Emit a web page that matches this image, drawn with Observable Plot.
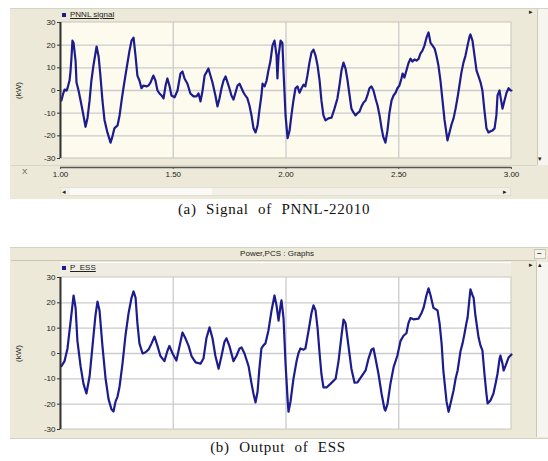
<!DOCTYPE html>
<html>
<head>
<meta charset="utf-8">
<script src="https://cdn.jsdelivr.net/npm/d3@7"></script>
<script src="https://cdn.jsdelivr.net/npm/@observablehq/plot@0.6"></script>
<style>
  html, body { margin: 0; padding: 0; background: #fff; }
  #root { position: relative; width: 548px; height: 461px; overflow: hidden; background: #fff; font-family: "Liberation Sans", Arial, sans-serif; }
  .abs { position: absolute; }
  .win { background: #ece9d8; }
  .small { font-size: 8px; color: #222; white-space: nowrap; }
  .cap { font-family: "Liberation Serif", "DejaVu Serif", serif; font-size: 15px; color: #111; white-space: nowrap; letter-spacing: 0.7px; word-spacing: 5px; text-align: center; width: 548px; left: 0; }
  .chart { position: absolute; left: 0; }
  .chart svg { display: block; }
</style>
</head>
<body>
<div id="root">
  <!-- window A chrome -->
  <div class="abs win" style="left:10px;top:8px;width:538px;height:190px;border-top:1px solid #d6d3c6;"></div>
  <div class="abs" style="left:537px;top:9px;width:11px;height:156px;background:#f6f5ef;border-left:1px solid #cbc7b5;"></div>
  <div class="abs" style="left:11px;top:165px;width:526px;height:1px;background:#d9d6c8;"></div>
  <div class="abs" style="left:60px;top:187px;width:451px;height:9px;background:#f3f1e7;border:1px solid #e2dfd2;box-sizing:border-box;"></div>
  <div class="abs" style="left:70px;top:188px;width:142px;height:7px;background:#fbfaf6;"></div>
  <!-- window B chrome -->
  <div class="abs win" style="left:10px;top:247px;width:538px;height:190px;border-top:1px solid #d6d3c6;border-bottom:1px solid #d6d3c6;"></div>
  <div class="abs" style="left:11px;top:260px;width:526px;height:1px;background:#c9c5b3;"></div>
  <div class="abs" style="left:60px;top:262px;width:451px;height:15px;background:#efede3;border-top:1px solid #fff;"></div>
  <div class="abs" style="left:536px;top:262px;width:12px;height:175px;background:#f6f5ef;border-left:1px solid #cbc7b5;"></div>
  <div class="abs" style="left:534px;top:249px;width:12px;height:10px;background:#f4f3ec;border:1px solid #c9c5b3;box-sizing:border-box;"></div>

  <div id="chartA" class="chart" style="top:0px;"></div>
  <div id="chartB" class="chart" style="top:247px;"></div>

  <!-- window A overlays -->
  <div class="abs" style="left:62px;top:13px;width:4px;height:4px;background:#1c1c8e;"></div>
  <div class="abs small" style="left:70px;top:10px;text-decoration:underline;">PNNL signal</div>
  <div class="abs small" style="left:529px;top:8px;font-size:7px;">&#9656;</div>
  <div class="abs small" style="left:538px;top:155px;font-size:7px;">&#9662;</div>
  <div class="abs small" style="left:22px;top:167px;color:#555;">X</div>
  <div class="abs small" style="left:62px;top:188px;font-size:7px;line-height:7px;">&#9666;</div>
  <div class="abs small" style="left:503px;top:188px;font-size:7px;line-height:7px;">&#9656;</div>
  <div class="abs small" style="left:4px;top:86px;width:28px;text-align:center;transform:rotate(-90deg);">(kW)</div>
  <div class="abs cap" style="top:201px;">(a) Signal of PNNL-22010</div>

  <!-- window B overlays -->
  <div class="abs small" style="left:0;top:249px;width:548px;text-align:center;padding-left:6px;box-sizing:border-box;">Power,PCS : Graphs</div>
  <div class="abs small" style="left:537px;top:248px;font-weight:bold;">&#8211;</div>
  <div class="abs" style="left:62px;top:266px;width:4px;height:4px;background:#1c1c8e;"></div>
  <div class="abs small" style="left:70px;top:263px;text-decoration:underline;">P_ESS</div>
  <div class="abs small" style="left:529px;top:261px;font-size:7px;">&#9656;</div>
  <div class="abs small" style="left:538px;top:261px;font-size:7px;">&#9652;</div>
  <div class="abs small" style="left:4px;top:349px;width:28px;text-align:center;transform:rotate(-90deg);">(kW)</div>
  <div class="abs cap" style="top:439px;padding-left:8px;box-sizing:border-box;">(b) Output of ESS</div>
</div>

<script>
// ---------- data ----------
const yTicks = [-30, -20, -10, 0, 10, 20, 30];
const xTicks = [1.0, 1.5, 2.0, 2.5, 3.0];
const xTickLabels = ["1.00", "1.50", "2.00", "2.50", "3.00"];
const xGrid = [1.5, 2.0, 2.5];

// (a) PNNL signal: time and power (kW)
const signalTime = [
  1.004,1.013,1.018,1.027,1.031,1.040,1.044,1.049,1.053,1.058,
  1.067,1.071,1.080,1.089,1.098,1.111,1.120,1.129,1.137,1.146,
  1.160,1.169,1.177,1.186,1.195,1.208,1.222,1.231,1.239,1.253,
  1.262,1.271,1.279,1.293,1.306,1.315,1.324,1.333,1.341,1.350,
  1.359,1.368,1.381,1.390,1.399,1.412,1.421,1.430,1.439,1.448,
  1.457,1.466,1.474,1.483,1.492,1.506,1.519,1.532,1.541,1.550,
  1.563,1.576,1.590,1.603,1.612,1.621,1.630,1.639,1.647,1.656,
  1.665,1.674,1.687,1.696,1.705,1.714,1.723,1.732,1.741,1.749,
  1.758,1.767,1.776,1.785,1.794,1.803,1.812,1.820,1.829,1.838,
  1.847,1.856,1.865,1.874,1.882,1.891,1.896,1.905,1.914,1.922,
  1.931,1.940,1.949,1.958,1.962,1.967,1.976,1.984,1.989,1.998,
  2.007,2.016,2.024,2.033,2.042,2.051,2.060,2.069,2.078,2.086,
  2.095,2.104,2.113,2.122,2.131,2.140,2.149,2.157,2.166,2.175,
  2.188,2.202,2.215,2.228,2.237,2.246,2.255,2.264,2.273,2.282,
  2.290,2.299,2.308,2.317,2.326,2.335,2.344,2.353,2.361,2.370,
  2.379,2.388,2.397,2.406,2.415,2.424,2.432,2.441,2.450,2.459,
  2.468,2.477,2.486,2.494,2.503,2.512,2.517,2.525,2.534,2.543,
  2.552,2.561,2.570,2.579,2.588,2.596,2.605,2.614,2.623,2.632,
  2.641,2.650,2.659,2.667,2.676,2.685,2.694,2.703,2.716,2.725,
  2.734,2.743,2.752,2.761,2.769,2.778,2.787,2.796,2.805,2.814,
  2.818,2.827,2.836,2.845,2.854,2.863,2.871,2.880,2.889,2.898,
  2.907,2.916,2.925,2.933,2.938,2.947,2.951,2.960,2.969,2.978,
  2.987,2.996,3.000
];
const signalPower = [
  -4.4,-1,0.4,0,1,4.4,8,15,22,21,
  13,3.5,0,-4.4,-9,-16,-12,-4.4,4.4,11,
  19.4,15,6.6,-4.4,-13,-18.5,-23,-20,-16.7,-15.4,
  -11,-4.4,1,9.7,17.6,22,23.3,15,6.6,4.4,
  1,2.2,1.8,2.2,3.5,6.6,4.4,0,-1.3,-2.2,
  -3.5,2.2,5.3,2.2,-2.2,-3,0,7.5,8.4,5.3,
  3,-1.3,-2.6,-2.6,-1.3,-4.8,0,6.6,8,9.7,
  6.6,3.5,-2.2,-7,-3.5,1,4.4,6.2,3.5,1,
  -2.2,-4,-1,2.2,3,1,-1,-2.2,-3.5,-6.6,
  -11,-16.7,-18.5,-15.4,-8.8,-2.2,3,1.8,4.4,8.8,
  13,19.8,22,15.4,5.3,15.4,22,21,8.8,-11,
  -21,-17.6,-11,-4.4,1,1.8,-1,1,2.6,1.8,
  6.6,12.3,16.7,18,15.4,11,4.4,-4.4,-11,-13.2,
  -12.3,-12,-8,-3.5,2.2,8.8,12.3,9.7,4.4,-2.2,
  -8,-9.7,-11,-10,-9.3,-7,-5.3,-4.4,-2.2,1,
  1.8,0,-3.5,-6.6,-11,-16.7,-20.7,-23,-17.6,-9.7,
  -4.4,-2.2,-1,1,2.2,5.3,7.5,5.7,8.8,12,
  14,12.8,13.7,13.2,14,16.3,17.6,19.8,23.3,25.6,
  21,19.8,18.5,15.4,11,4.4,-4.4,-13,-22,-18.5,
  -15,-12.3,-8,-3,2.2,8,12.3,15.4,19.8,23.8,
  24.7,22,15.4,8.8,6.2,3.5,0,-8.8,-16.7,-18.5,
  -18,-17.6,-16.7,-11,-2.2,0,-2.6,-8,-4.4,-1,
  1,0,0
];

// (b) ESS output: time and power (kW)
const essTime = [
  1.004,1.018,1.031,1.044,1.058,1.067,1.075,1.089,1.102,1.115,
  1.129,1.142,1.155,1.164,1.173,1.186,1.200,1.213,1.226,1.235,
  1.244,1.253,1.262,1.275,1.288,1.302,1.315,1.324,1.333,1.341,
  1.350,1.364,1.377,1.390,1.404,1.417,1.430,1.443,1.461,1.474,
  1.483,1.497,1.514,1.528,1.541,1.554,1.568,1.581,1.599,1.612,
  1.621,1.634,1.647,1.661,1.674,1.687,1.701,1.714,1.727,1.736,
  1.749,1.767,1.780,1.794,1.803,1.816,1.834,1.847,1.856,1.865,
  1.874,1.882,1.891,1.900,1.909,1.922,1.936,1.949,1.958,1.967,
  1.976,1.980,1.989,1.998,2.007,2.011,2.020,2.033,2.047,2.055,
  2.064,2.078,2.086,2.100,2.113,2.122,2.131,2.140,2.149,2.157,
  2.166,2.180,2.197,2.220,2.233,2.246,2.255,2.264,2.277,2.290,
  2.304,2.317,2.335,2.353,2.366,2.379,2.388,2.397,2.410,2.424,
  2.437,2.441,2.450,2.463,2.477,2.494,2.508,2.521,2.534,2.543,
  2.552,2.565,2.588,2.601,2.610,2.623,2.632,2.641,2.654,2.672,
  2.681,2.690,2.698,2.712,2.721,2.729,2.743,2.752,2.761,2.774,
  2.783,2.792,2.800,2.805,2.814,2.818,2.827,2.832,2.840,2.854,
  2.863,2.871,2.880,2.889,2.894,2.907,2.920,2.929,2.938,2.947,
  2.951,2.960,2.965,2.973,2.987,3.000
];
const essPower = [
  -5,-3,2,12,22.9,18,5,-5,-12,-15.8,
  -9,3,15,20.5,17,3,-10,-18,-22,-22.9,
  -19,-17,-13,-4,7,16,22,24.5,22,12,
  4,0,0.5,1.5,4,6.7,3,-1,-3,1,
  3,0,-2.8,3,8.3,6,3,-1,-3.5,-3.8,
  -4,-2,6,10.3,6,-1,-6,-1,4.5,6,
  3,-3,-1,2,2.4,0,-5,-11.8,-16,-19.3,
  -15,-6,2,3.2,4,9,17,22.9,19,13,
  19,21,14,-4,-18,-23,-19,-10,-3,0,
  2,1.5,2,9,16,19,17,10,0,-8,
  -13.4,-13.4,-12,-10,-3,7,13.4,12,3,-6,
  -11.5,-11.4,-9,-6.7,-2,1.5,2,-2,-8,-16,
  -22,-22.5,-20,-12,-5.5,-0.8,5,7,8,12,
  14,13.5,13.8,16,18,23,25.7,23,18,17,
  12,4,-7,-19,-23,-20,-14.6,-10,-6.7,1,
  4,8,12,14,22,25.3,23,22,15,6.3,
  3,1.2,-8,-16,-19.7,-18.5,-15.8,-12,-8,-2,
  -0.8,-4,-6.7,-5,-1.6,-0.4
];

// ---------- build ----------
const signalData = signalTime.map((t, i) => ({t, p: signalPower[i]}));
const essData = essTime.map((t, i) => ({t, p: essPower[i]}));
const lineColor = "#1c1c8e";
const gridColor = "#cbcbcb";

function panel({data, height, marginTop, marginBottom, yRange, bg, showX}) {
  const marks = [
    Plot.rect([0], {x1: () => 1, x2: () => 3, y1: () => -30, y2: () => 30, fill: bg, stroke: "#c9c6b8", strokeWidth: 1}),
    Plot.ruleY(yTicks.slice(1, -1), {x1: () => 1, x2: () => 3, stroke: gridColor, strokeWidth: 1.3}),
    Plot.ruleX(xGrid, {y1: () => -30, y2: () => 30, stroke: gridColor, strokeWidth: 1.3}),
    Plot.line(data, {x: "t", y: "p", stroke: lineColor, strokeWidth: 2.2, strokeLinejoin: "round"}),
    Plot.ruleX([1], {y1: () => -30, y2: () => 30, stroke: "#333", strokeWidth: 2}),
    Plot.axisY(yTicks, {tickSize: 3, tickPadding: 2, label: null, fill: "#222", stroke: "#333", tickFormat: d => String(d)})
  ];
  if (showX) {
    marks.push(
      Plot.ruleY([-30], {dy: 9, stroke: "#555", strokeWidth: 1.5}),
      Plot.axisX(xTicks, {tickSize: 2, tickPadding: 2, label: null, fill: "#222", stroke: "#555",
        tickFormat: d => xTickLabels[xTicks.indexOf(d)]})
    );
  }
  return Plot.plot({
    width: 548, height, marginLeft: 60, marginRight: 37, marginTop, marginBottom,
    x: showX ? {domain: [1, 3]} : {domain: [1, 3], axis: null},
    y: {domain: [-30, 30], range: yRange},
    style: {background: "transparent", fontFamily: "'Liberation Sans', Arial, sans-serif", fontSize: "8px", overflow: "visible"},
    marks
  });
}

document.getElementById("chartA").append(panel({
  data: signalData, height: 200, marginTop: 22, marginBottom: 33, yRange: [158, 22], bg: "#fdfaee", showX: true
}));
document.getElementById("chartB").append(panel({
  data: essData, height: 190, marginTop: 30, marginBottom: 8, yRange: [182, 30], bg: "#ffffff", showX: false
}));
</script>
</body>
</html>
